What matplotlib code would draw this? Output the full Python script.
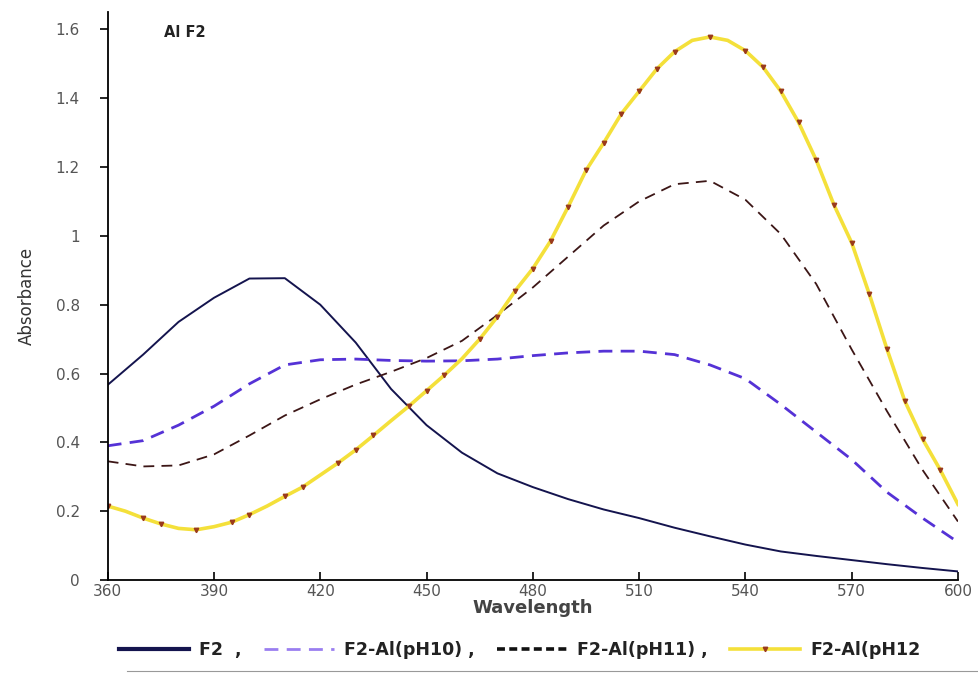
import matplotlib
matplotlib.use("Agg")
import matplotlib.pyplot as plt
from matplotlib.lines import Line2D

# wavelengths (nm), 10 nm steps for F2, pH10, pH11
wl = [360, 370, 380, 390, 400, 410, 420, 430, 440, 450, 460, 470, 480,
      490, 500, 510, 520, 530, 540, 550, 560, 570, 580, 590, 600]

f2 = [0.567, 0.655, 0.75, 0.82, 0.876, 0.877, 0.80, 0.69, 0.555, 0.45,
      0.37, 0.31, 0.27, 0.235, 0.205, 0.18, 0.152, 0.127, 0.103, 0.083,
      0.07, 0.058, 0.046, 0.035, 0.025]

ph10 = [0.39, 0.405, 0.45, 0.505, 0.57, 0.625, 0.64, 0.642, 0.638, 0.636,
        0.637, 0.642, 0.652, 0.66, 0.665, 0.665, 0.655, 0.625, 0.585, 0.51,
        0.43, 0.35, 0.255, 0.18, 0.11]

ph11 = [0.345, 0.33, 0.333, 0.365, 0.42, 0.478, 0.525, 0.568, 0.605, 0.645,
        0.695, 0.77, 0.85, 0.94, 1.03, 1.10, 1.15, 1.16, 1.105, 1.005,
        0.86, 0.67, 0.49, 0.32, 0.17]

# pH12 read at 5 nm steps
wl12 = [360, 365, 370, 375, 380, 385, 390, 395, 400, 405, 410, 415, 420,
        425, 430, 435, 440, 445, 450, 455, 460, 465, 470, 475, 480, 485,
        490, 495, 500, 505, 510, 515, 520, 525, 530, 535, 540, 545, 550,
        555, 560, 565, 570, 575, 580, 585, 590, 595, 600]
ph12 = [0.215, 0.20, 0.18, 0.163, 0.15, 0.146, 0.155, 0.168, 0.19, 0.215,
        0.243, 0.27, 0.305, 0.34, 0.378, 0.42, 0.463, 0.505, 0.55, 0.595,
        0.643, 0.70, 0.765, 0.84, 0.905, 0.985, 1.085, 1.19, 1.27, 1.355,
        1.42, 1.485, 1.535, 1.568, 1.578, 1.568, 1.538, 1.49, 1.42, 1.33,
        1.22, 1.09, 0.98, 0.83, 0.67, 0.52, 0.41, 0.32, 0.22]

x_ticks = [360, 390, 420, 450, 480, 510, 540, 570, 600]
y_ticks = [0, 0.2, 0.4, 0.6, 0.8, 1.0, 1.2, 1.4, 1.6]
y_tick_labels = ["0", "0.2", "0.4", "0.6", "0.8", "1", "1.2", "1.4", "1.6"]


def main():
    fig = plt.figure(figsize=(9.79, 6.75), dpi=100)
    ax = fig.add_axes([0.110, 0.1407, 0.8685, 0.8413])

    ax.plot(wl, f2, color="#14144e", lw=1.4, label="F2  ,")
    ax.plot(wl, ph10, color="#5532d6", lw=2.0, dashes=(5, 3),
            label="F2-Al(pH10) ,")
    ax.plot(wl, ph11, color="#3c1616", lw=1.3, dashes=(6, 4),
            label="F2-Al(pH11) ,")
    ax.plot(wl12, ph12, color="#f4e03a", lw=2.6, marker="v", ms=3.2,
            mfc="#9a3a1c", mec="#9a3a1c", markevery=0.03,
            label="F2-Al(pH12")

    ax.set_xlim(360, 600)
    ax.set_ylim(0, 1.65)
    ax.set_xticks(x_ticks)
    ax.set_yticks(y_ticks)
    ax.set_yticklabels(y_tick_labels)
    ax.spines["top"].set_visible(False)
    ax.spines["right"].set_visible(False)
    ax.spines["left"].set_linewidth(1.3)
    ax.spines["bottom"].set_linewidth(1.3)
    ax.tick_params(axis="x", direction="in", length=6, width=1.2,
                   labelsize=11, labelcolor="#555555", pad=3)
    ax.tick_params(axis="y", direction="out", length=6, width=1.2,
                   labelsize=11, labelcolor="#555555", pad=14)

    ax.set_xlabel("Wavelength", fontsize=13, fontweight="bold",
                  color="#444444", labelpad=0)
    ax.set_ylabel("Absorbance", fontsize=12, color="#333333", labelpad=14)

    ax.text(376, 1.59, "Al F2", fontsize=10.5, fontweight="bold",
            color="#222222", va="center")

    leg = fig.legend(loc="lower left", bbox_to_anchor=(0.106, 0.0),
                     ncol=4, frameon=False, handlelength=4.0,
                     handletextpad=0.6, columnspacing=1.3,
                     prop={"weight": "bold", "size": 12.5})
    for t in leg.get_texts():
        t.set_color("#222222")
    # legend keys drawn a bit heavier, like the original
    h = leg.legend_handles
    h[0].set_linewidth(3.0)
    h[1].set_color("#9a7ef0")
    h[2].set_linewidth(2.6)
    h[2].set_color("#111111")
    h[2].set_dashes((2.2, 1.2))

    # thin rule under the legend
    fig.add_artist(Line2D([0.13, 1.0], [0.006, 0.006], color="#999999",
                          lw=0.8, transform=fig.transFigure))

    fig.savefig("out.png", dpi=100)


if __name__ == "__main__":
    main()
